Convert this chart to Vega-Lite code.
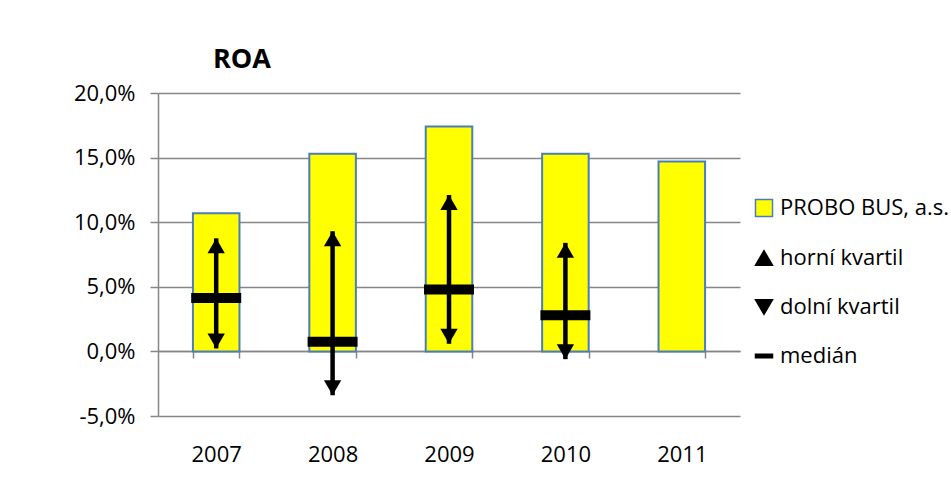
{
  "$schema": "https://vega.github.io/schema/vega-lite/v6.json",
  "autosize": "none",
  "width": 582,
  "height": 323,
  "padding": {"left": 158, "top": 93, "right": 211, "bottom": 65},
  "background": "white",
  "title": {"text": "ROA", "anchor": "start", "frame": "group", "dx": 55, "offset": 8, "font": "Open Sans", "fontSize": 27, "fontWeight": "bold", "color": "#000000"},
  "data": {"values": [
    {"year": "2007", "roa": 0.107, "q_hi": 0.0875, "q_lo": 0.0023, "median": 0.0414},
    {"year": "2008", "roa": 0.153, "q_hi": 0.093, "q_lo": -0.034, "median": 0.0074},
    {"year": "2009", "roa": 0.174, "q_hi": 0.121, "q_lo": 0.006, "median": 0.048},
    {"year": "2010", "roa": 0.153, "q_hi": 0.084, "q_lo": -0.006, "median": 0.028},
    {"year": "2011", "roa": 0.147, "q_hi": null, "q_lo": null, "median": null}
  ]},
  "encoding": {
    "x": {"field": "year", "type": "ordinal", "title": null,
      "scale": {"paddingInner": 0.6, "paddingOuter": 0.3},
      "axis": {"orient": "bottom", "offset": -65, "domainColor": "#868686", "domainWidth": 1.5, "tickColor": "#868686", "tickWidth": 1.5, "tickSize": 7, "tickBand": "extent", "labelPadding": 86, "labelFont": "Open Sans", "labelFontSize": 22, "labelColor": "#000000", "labelAngle": 0, "grid": false}}
  },
  "layer": [
    {
      "mark": {"type": "bar", "strokeWidth": 2},
      "encoding": {
        "y": {"field": "roa", "type": "quantitative", "title": null,
          "scale": {"domain": [-0.05, 0.2], "nice": false, "zero": false},
          "axis": {"values": [-0.05, 0, 0.05, 0.1, 0.15, 0.2], "labelExpr": "replace(replace(format(datum.value, '.1%'), '.', ','), '\u2212', '-')", "grid": true, "gridColor": "#868686", "gridWidth": 1.5, "domainColor": "#868686", "domainWidth": 1.5, "tickColor": "#868686", "tickWidth": 1.5, "tickSize": 8, "labelPadding": 15, "labelFont": "Open Sans", "labelFontSize": 22, "labelColor": "#000000"}},
        "fill": {"datum": "PROBO BUS, a.s.", "type": "nominal",
          "scale": {"domain": ["PROBO BUS, a.s.", "horní kvartil", "dolní kvartil", "medián"], "range": ["#FFFF00", "#000000", "#000000", "#000000"]},
          "legend": {"orient": "none", "legendX": 595, "legendY": 104, "title": null, "labelFont": "Open Sans", "labelFontSize": 22, "labelColor": "#000000", "labelOffset": 5, "labelLimit": 0, "rowPadding": 27, "symbolSize": 290, "symbolStrokeWidth": 1.5}},
        "stroke": {"datum": "PROBO BUS, a.s.", "type": "nominal",
          "scale": {"domain": ["PROBO BUS, a.s.", "horní kvartil", "dolní kvartil", "medián"], "range": ["#4A7EBB", "#000000", "#000000", "#000000"]}}
      }
    },
    {
      "mark": {"type": "rule", "color": "#000000", "strokeWidth": 4.5},
      "encoding": {
        "y": {"field": "q_lo", "type": "quantitative"},
        "y2": {"field": "q_hi"}
      }
    },
    {
      "mark": {"type": "point", "filled": true, "size": 300, "strokeWidth": 0, "opacity": 1},
      "encoding": {
        "y": {"field": "q_hi", "type": "quantitative"},
        "yOffset": {"value": 7.5},
        "fill": {"datum": "horní kvartil", "type": "nominal"},
        "stroke": {"datum": "horní kvartil", "type": "nominal"},
        "shape": {"datum": "horní kvartil", "type": "nominal",
          "scale": {"domain": ["PROBO BUS, a.s.", "horní kvartil", "dolní kvartil", "medián"], "range": ["square", "triangle-up", "triangle-down", "M-1,-0.2H1V0.2H-1Z"]}}
      }
    },
    {
      "mark": {"type": "point", "filled": true, "size": 300, "strokeWidth": 0, "opacity": 1},
      "encoding": {
        "y": {"field": "q_lo", "type": "quantitative"},
        "yOffset": {"value": -7.5},
        "fill": {"datum": "dolní kvartil", "type": "nominal"},
        "stroke": {"datum": "dolní kvartil", "type": "nominal"},
        "shape": {"datum": "dolní kvartil", "type": "nominal"}
      }
    },
    {
      "mark": {"type": "point", "filled": true, "size": 2500, "strokeWidth": 0, "opacity": 1},
      "encoding": {
        "y": {"field": "median", "type": "quantitative"},
        "fill": {"datum": "medián", "type": "nominal"},
        "stroke": {"datum": "medián", "type": "nominal"},
        "shape": {"datum": "medián", "type": "nominal"}
      }
    }
  ],
  "config": {"view": {"stroke": null}}
}
